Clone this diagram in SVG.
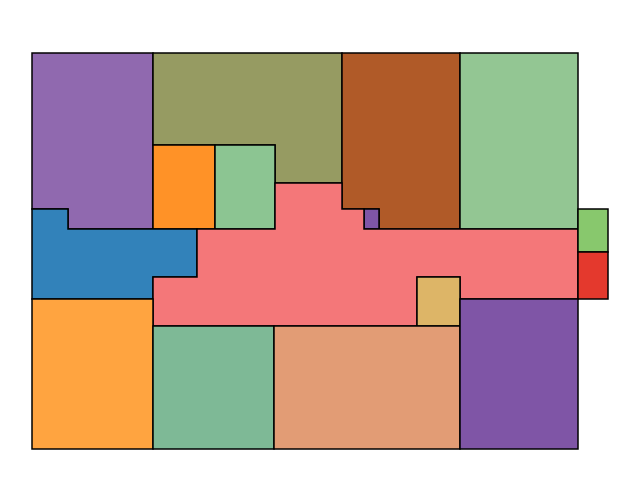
<svg xmlns="http://www.w3.org/2000/svg" width="640" height="500" viewBox="0 0 640 500">
<style>
.r{stroke:#000;stroke-width:1.5;stroke-linejoin:miter}
</style>
<rect width="640" height="500" fill="#fff"/>
<g id="room-purple-tl"><polygon class="r" fill="#9069AF" points="32,53 153,53 153,229 68,229 68,209 32,209"/></g>
<g id="room-olive"><polygon class="r" fill="#969B62" points="153,53 342,53 342,183 275,183 275,145 153,145"/></g>
<g id="room-brown"><polygon class="r" fill="#B05A28" points="342,53 460,53 460,229 379,229 379,209 342,209"/></g>
<g id="room-green-tr"><rect class="r" fill="#93C693" x="460" y="53" width="118" height="176"/></g>
<g id="room-orange-small"><rect class="r" fill="#FF9227" x="153" y="145" width="62" height="84"/></g>
<g id="room-green-small"><rect class="r" fill="#8CC592" x="215" y="145" width="60" height="84"/></g>
<g id="room-purple-small"><rect class="r" fill="#7F55A6" x="364" y="209" width="15" height="20"/></g>
<g id="room-blue"><polygon class="r" fill="#3282BA" points="32,209 68,209 68,229 197,229 197,277 153,277 153,299 32,299"/></g>
<g id="room-pink"><polygon class="r" fill="#F47779" points="197,229 275,229 275,183 342,183 342,209 364,209 364,229 578,229 578,299 460,299 460,277 417,277 417,326 153,326 153,277 197,277"/></g>
<g id="room-yellow"><rect class="r" fill="#DDB567" x="417" y="277" width="43" height="49"/></g>
<g id="room-green-right"><rect class="r" fill="#88C86D" x="578" y="209" width="30" height="43"/></g>
<g id="room-red"><rect class="r" fill="#E4392D" x="578" y="252" width="30" height="47"/></g>
<g id="room-orange-bl"><rect class="r" fill="#FFA440" x="32" y="299" width="121" height="150"/></g>
<g id="room-green-b"><rect class="r" fill="#7EB996" x="153" y="326" width="121" height="123"/></g>
<g id="room-tan"><rect class="r" fill="#E29C75" x="274" y="326" width="186" height="123"/></g>
<g id="room-purple-br"><rect class="r" fill="#7F55A6" x="460" y="299" width="118" height="150"/></g>
<g id="connectors"></g>
</svg>
